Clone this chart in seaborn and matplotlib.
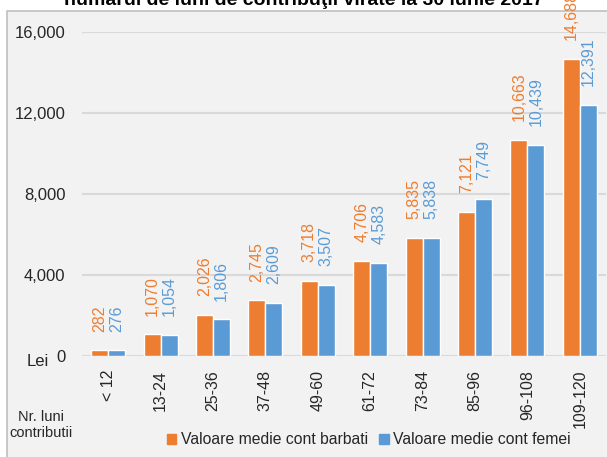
import matplotlib

matplotlib.use("Agg")
import matplotlib.pyplot as plt
import matplotlib.patches as mpatches
import pandas as pd
import seaborn as sns

# data
categories = ["< 12", "13-24", "25-36", "37-48", "49-60", "61-72", "73-84", "85-96", "96-108", "109-120"]
barbati = [282, 1070, 2026, 2745, 3718, 4706, 5835, 7121, 10663, 14688]
femei = [276, 1054, 1806, 2609, 3507, 4583, 5838, 7749, 10439, 12391]
series_names = ["Valoare medie cont barbati", "Valoare medie cont femei"]
y_ticks = [0, 4000, 8000, 12000, 16000]

ORANGE = "#ED7D31"
BLUE = "#5B9BD5"
BG = "#F2F2F2"

df = pd.DataFrame({
    "grupa": categories * 2,
    "valoare": barbati + femei,
    "serie": [series_names[0]] * len(categories) + [series_names[1]] * len(categories),
})

sns.set_theme(style="white")
plt.rcParams["font.family"] = ["Liberation Sans", "DejaVu Sans"]

fig = plt.figure(figsize=(6.07, 4.57), dpi=100)
fig.patch.set_facecolor("white")

# grey chart-area frame (the reference is a crop of a larger page)
frame = mpatches.Rectangle((7 / 607, -0.01), 1, 1.01 - 11 / 457, transform=fig.transFigure,
                           facecolor=BG, edgecolor="#BFBFBF", linewidth=1.2, zorder=-10)
fig.patches.append(frame)

# title is cut off at the top in the reference
fig.text(0.5, 1 - 5 / 457, "numarul de luni de contribuţii virate la 30 iunie 2017",
         ha="center", va="baseline", fontsize=14, fontweight="bold", color="black")

ax = fig.add_axes([82 / 607, 1 - 356 / 457, (606 - 82) / 607, (356 - 32) / 457])
ax.set_facecolor(BG)

sns.barplot(data=df, x="grupa", y="valoare", hue="serie", palette=[ORANGE, BLUE],
            width=0.65, gap=0, saturation=1, ax=ax, zorder=3)

for cont, col in zip(ax.containers, [ORANGE, BLUE]):
    ax.bar_label(cont, labels=[f"{v:,.0f}" for v in cont.datavalues], padding=13.5,
                 rotation=90, color=col, fontsize=11.5, clip_on=False)

ax.set_ylim(0, 16000)
ax.set_xlim(-0.5, len(categories) - 0.5)
ax.set_yticks(y_ticks)
ax.set_yticklabels([f"{t:,}" for t in y_ticks], fontsize=12)
ax.tick_params(axis="y", length=0, pad=12, colors="#262626")
ax.tick_params(axis="x", length=0, pad=10, labelrotation=90, labelsize=11.5, colors="#262626")
ax.grid(axis="y", color="#D9D9D9", linewidth=1.5, zorder=0)
ax.set_axisbelow(True)
for s in ax.spines.values():
    s.set_visible(False)
ax.set_xlabel("")
ax.set_ylabel("")

ax.get_legend().remove()
handles = [mpatches.Patch(color=ORANGE), mpatches.Patch(color=BLUE)]
fig.legend(handles, series_names, loc="center", bbox_to_anchor=(369 / 607, 1 - 440 / 457),
           ncol=2, frameon=False, fontsize=11.3, handlelength=0.6, handleheight=0.6,
           handletextpad=0.3, columnspacing=0.7, labelcolor="#262626")

fig.text(38 / 607, 1 - 362 / 457, "Lei", ha="center", va="center", fontsize=12, color="#262626")
fig.text(41 / 607, 1 - 425 / 457, "Nr. luni\ncontributii", ha="center", va="center",
         fontsize=10.5, linespacing=1.1, color="#262626")

fig.savefig("out.png", dpi=100, facecolor=fig.get_facecolor())
